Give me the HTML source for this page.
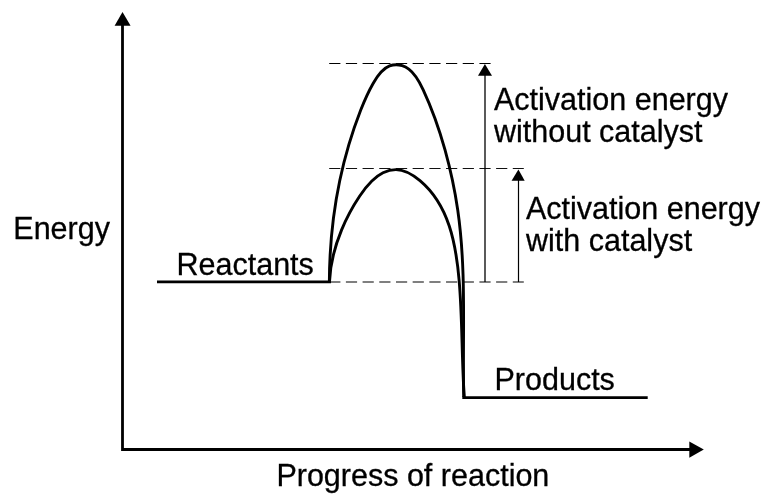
<!DOCTYPE html>
<html><head><meta charset="utf-8">
<style>
html,body{margin:0;padding:0;background:#fff;width:773px;height:499px;overflow:hidden}
svg{display:block;will-change:transform}
text{font-family:"Liberation Sans",sans-serif;font-size:30.5px;fill:#000;stroke:#000;stroke-width:0.3px}
</style></head><body>
<svg width="773" height="499" viewBox="0 0 773 499">
<!-- axes -->
<path d="M122.5 24 V449.5 H691" fill="none" stroke="#000" stroke-width="2.8"/>
<path d="M122.5 11.9 L114.6 25.8 L130.6 25.8 Z" fill="#000"/>
<path d="M703.8 449.4 L689.3 441.6 L689.3 457.7 Z" fill="#000"/>
<!-- dashed guides -->
<g stroke-dasharray="11.2 5.49" fill="none" stroke="#000">
<path d="M329.2 63.5 H490.6" stroke-width="1.1"/>
<path d="M329.2 168.5 H523.8" stroke-width="1.2" stroke="#111"/>
<path d="M329.2 282 H523.8" stroke-width="1.2"/>
</g>
<!-- energy levels -->
<path d="M157 281.9 H331" stroke="#000" stroke-width="2.6" fill="none"/>
<path d="M462.3 397.6 H647.7" stroke="#000" stroke-width="2.8" fill="none"/>
<!-- curves -->
<path id="co" d="M329.35 281.93 C329.60 223.86 339.65 164.12 360.64 110.27 C364.16 101.25 367.98 92.39 373.11 83.42 C377.33 76.04 382.42 68.59 389.58 65.90 C393.50 64.43 398.03 64.38 402.17 65.68 C404.54 66.42 406.79 67.61 408.80 69.08 C415.45 73.95 419.53 81.91 423.20 89.79 C432.59 109.92 439.37 129.53 445.02 149.93 C450.43 169.47 454.80 189.72 457.74 210.03 C466.70 272.02 462.32 334.51 463.75 397.02" stroke="#000" stroke-width="2.9" fill="none"/>
<path id="ci" d="M329.47 281.99 C330.10 264.29 334.84 246.33 341.61 229.90 C346.45 218.12 352.34 207.11 359.57 196.27 C365.81 186.92 373.05 177.68 383.01 172.81 C387.05 170.84 391.54 169.58 395.93 169.60 C404.64 169.65 412.95 174.73 419.97 180.65 C448.82 204.98 455.92 243.42 459.13 280.26 C462.54 319.49 461.53 356.91 464.29 397.22" stroke="#000" stroke-width="2.9" fill="none"/>
<!-- activation arrows -->
<path d="M485 282 V75" stroke="#000" stroke-width="1.3" fill="none"/>
<path d="M484.9 64.1 L478 75.7 L492 75.7 Z" fill="#000"/>
<path d="M518.5 282 V180" stroke="#000" stroke-width="1.2" fill="none"/>
<path d="M518.4 169.4 L511.6 180.7 L524.7 180.7 Z" fill="#000"/>
<!-- labels -->
<text x="494" y="109.7">Activation energy</text>
<text x="494" y="141.7">without catalyst</text>
<text x="526" y="218.8">Activation energy</text>
<text x="526" y="251">with catalyst</text>
<text x="13.3" y="238.8">Energy</text>
<text x="176.5" y="274.5">Reactants</text>
<text x="494.5" y="389.9">Products</text>
<text x="276.4" y="485.9">Progress of reaction</text>
</svg>
</body></html>
